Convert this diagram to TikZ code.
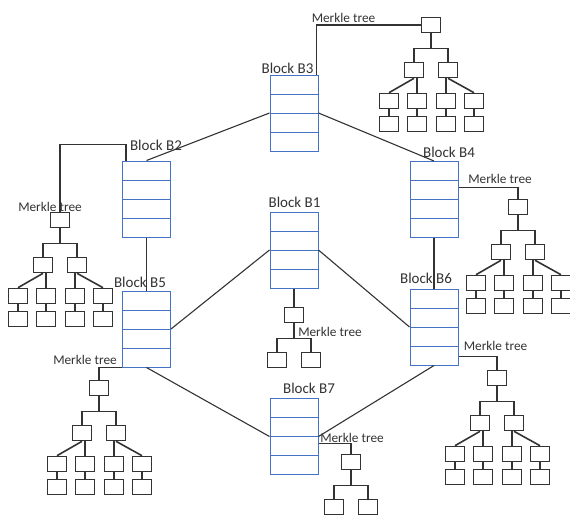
\documentclass[tikz,border=0pt]{standalone}
\usepackage{fontspec}
\setmainfont{Carlito}
\usetikzlibrary{calc, positioning}
\definecolor{blockBlue}{RGB}{68,114,196}
\definecolor{lineGray}{gray}{0.2}
\definecolor{textGray}{gray}{0.2}

\tikzset{
  blockbox/.style={draw=blockBlue, line width=1pt, minimum width=48pt, minimum height=76pt, inner sep=0pt,
    path picture={
      \draw[blockBlue, line width=1pt] ($(path picture bounding box.north west)!0.25!(path picture bounding box.south west)$) -- ($(path picture bounding box.north east)!0.25!(path picture bounding box.south east)$);
      \draw[blockBlue, line width=1pt] ($(path picture bounding box.north west)!0.5!(path picture bounding box.south west)$) -- ($(path picture bounding box.north east)!0.5!(path picture bounding box.south east)$);
      \draw[blockBlue, line width=1pt] ($(path picture bounding box.north west)!0.75!(path picture bounding box.south west)$) -- ($(path picture bounding box.north east)!0.75!(path picture bounding box.south east)$);
    }},
  treebox/.style={draw=lineGray, line width=1.6pt, minimum width=19pt, minimum height=15pt, inner sep=0pt},
  treeline/.style={draw=lineGray, line width=1.6pt},
  linkline/.style={draw=lineGray, line width=1.1pt},
  blocklabel/.style={text=textGray, inner sep=0pt, font=\fontsize{15}{18}\selectfont},
  merklelabel/.style={text=textGray, inner sep=0pt, font=\fontsize{13.3}{16}\selectfont}
}

% root and its two children
\newcommand{\merkleroot}[2]{%
  \node[treebox] (#1r) at (#2) {};
  \node[treebox] (#1a) at ($(#1r)+(-17,45)$) {};
  \node[treebox] (#1b) at ($(#1r)+(17,45)$) {};
  \coordinate (#1j) at ($(#1r.south)+(0,15)$);
  \draw[treeline] (#1r.south) -- (#1j);
  \draw[treeline] (#1a.north) |- (#1j) -| (#1b.north);
}
% two rows of leaves under the children
\newcommand{\merkleleaves}[1]{%
  \node[treebox] (#1l1) at ($(#1r)+(-42,76)$) {};
  \node[treebox] (#1l2) at ($(#1r)+(-14,76)$) {};
  \node[treebox] (#1l3) at ($(#1r)+(15,76)$) {};
  \node[treebox] (#1l4) at ($(#1r)+(43,76)$) {};
  \node[treebox] (#1m1) at ($(#1l1)+(0,23)$) {};
  \node[treebox] (#1m2) at ($(#1l2)+(0,23)$) {};
  \node[treebox] (#1m3) at ($(#1l3)+(0,23)$) {};
  \node[treebox] (#1m4) at ($(#1l4)+(0,23)$) {};
  \draw[treeline] (#1a.south) -- (#1l1.north);
  \draw[treeline] (#1l2.north) -- (#1l2.north |- #1a.south);
  \draw[treeline] (#1l3.north) -- (#1l3.north |- #1b.south);
  \draw[treeline] (#1b.south) -- (#1l4.north);
  \draw[treeline] (#1l1.south) -- (#1m1.north);
  \draw[treeline] (#1l2.south) -- (#1m2.north);
  \draw[treeline] (#1l3.south) -- (#1m3.north);
  \draw[treeline] (#1l4.south) -- (#1m4.north);
}

\begin{document}
\begin{tikzpicture}[x=1pt, y=-1pt]
    \useasboundingbox (0,0) rectangle (570,514);

    % Blocks
    \node[blockbox] (B3) at (294,113) {};
    \node[blockbox] (B2) at (146.5,199) {};
    \node[blockbox] (B4) at (434,199.5) {};
    \node[blockbox] (B1) at (294,250) {};
    \node[blockbox] (B5) at (146.5,329) {};
    \node[blockbox] (B6) at (434,327) {};
    \node[blockbox] (B7) at (294,436.5) {};

    \node[blocklabel] (B3t) at (287.5,68) {Block B3};
    \node[blocklabel] (B2t) at (156,145.5) {Block B2};
    \node[blocklabel] (B4t) at (449,152) {Block B4};
    \node[blocklabel] (B1t) at (294.5,202) {Block B1};
    \node[blocklabel] (B5t) at (140,282) {Block B5};
    \node[blocklabel] (B6t) at (426,278) {Block B6};
    \node[blocklabel] (B7t) at (309,388) {Block B7};

    % Chain links
    \draw[linkline] (B3.west) -- (B2.north);
    \draw[linkline] (B3.east) -- (B4.north);
    \draw[linkline] (B2.south) -- (B5.north);
    \draw[linkline] (B4.south) -- (B6.north);
    \draw[linkline] (B5.east) -- (B1.west);
    \draw[linkline] (B1.east) -- (B6.west);
    \draw[linkline] (B5.south) -- (B7.west);
    \draw[linkline] (B6.south) -- (B7.east);

    % Merkle trees
    \merkleroot{T3}{431,25}
    \merkleleaves{T3}
    \merkleroot{T2}{60,220}
    \merkleleaves{T2}
    \merkleroot{T4}{518,207}
    \merkleleaves{T4}
    \merkleroot{T5}{99,388}
    \merkleleaves{T5}
    \merkleroot{T6}{497,378}
    \merkleleaves{T6}
    \merkleroot{T1}{294,315}
    \merkleroot{T7}{351,462}

    \draw[linkline] ($(B3.north east)+(-2,0)$) |- (T3r.west);
    \draw[linkline] ($(B2.north west)+(4,0)$) -- ++(0,-16) -| (T2r.north);
    \draw[linkline] ($(B4.east)+(0,-12)$) -| (T4r.north);
    \draw[linkline] (B5.south west) -| (T5r.north);
    \draw[linkline] ($(B6.south east)+(0,-9)$) -| (T6r.north);
    \draw[linkline] (B1.south) -- (T1r.north);
    \draw[linkline] ($(B7.east)+(0,7)$) -| (T7r.north);

    \node[merklelabel] (M3) at (343.5,18) {Merkle tree};
    \node[merklelabel] (M2) at (50,207) {Merkle tree};
    \node[merklelabel] (M4) at (500,179) {Merkle tree};
    \node[merklelabel] (M1) at (330,332) {Merkle tree};
    \node[merklelabel] (M5) at (85,360) {Merkle tree};
    \node[merklelabel] (M6) at (495.5,346) {Merkle tree};
    \node[merklelabel] (M7) at (352,438) {Merkle tree};
\end{tikzpicture}
\end{document}
